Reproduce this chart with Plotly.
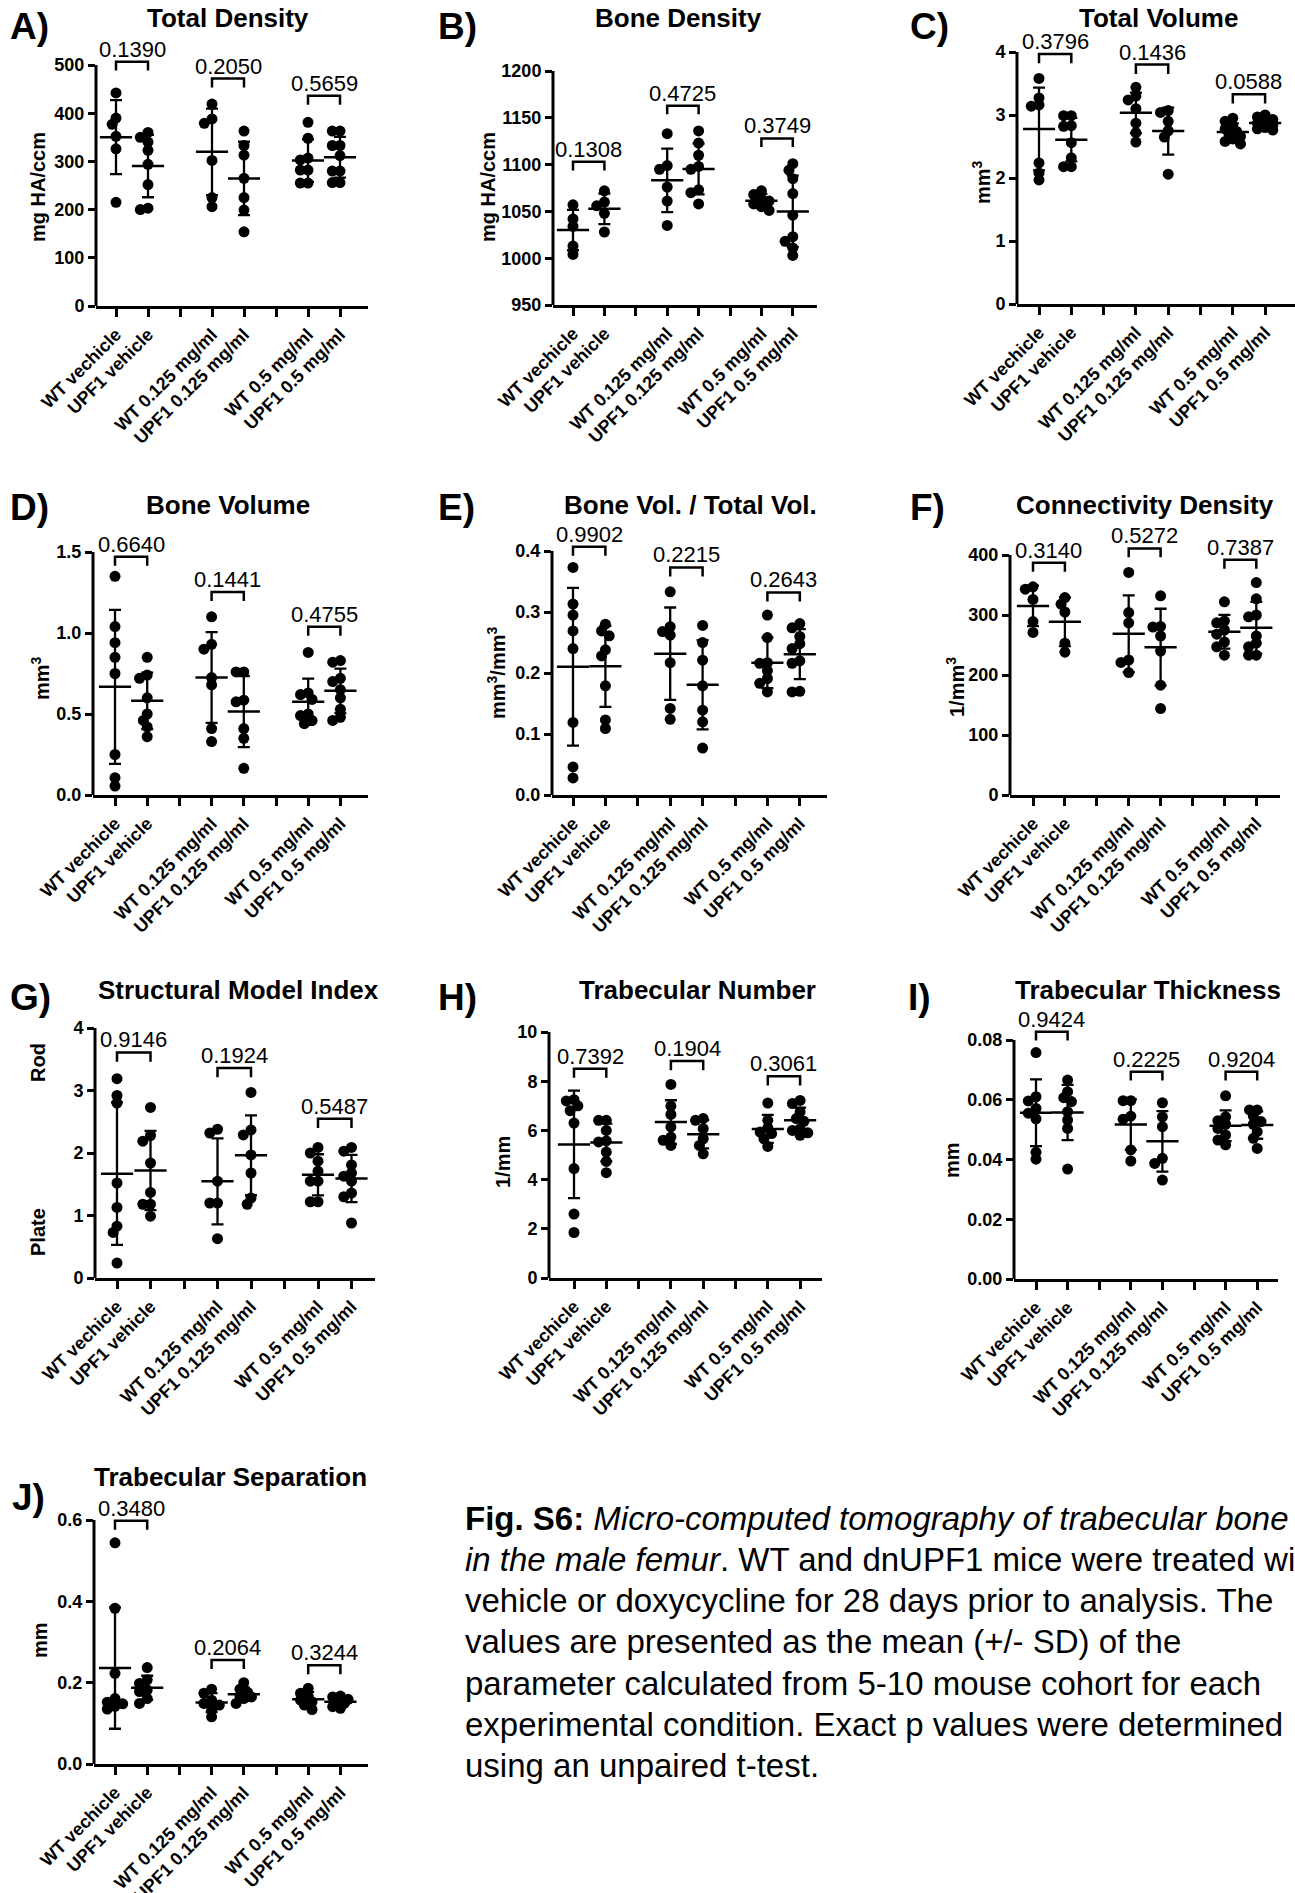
import numpy as np
import plotly.graph_objects as go

W, H = 1295, 1893
FONT = "Liberation Sans, Arial, Helvetica, sans-serif"

# ---------------- data ----------------
x_labels = ["WT vechicle", "UPF1 vehicle", "", "WT 0.125 mg/ml", "UPF1 0.125 mg/ml",
            "", "WT 0.5 mg/ml", "UPF1 0.5 mg/ml"]
group_slots = [0, 1, 3, 4, 6, 7]
bracket_pairs = [(0, 1), (3, 4), (6, 7)]

total_density = [
    [442, 390, 377, 352, 326, 215],
    [360, 350, 340, 323, 294, 252, 203, 200],
    [419, 388, 379, 302, 225, 206],
    [363, 333, 313, 265, 225, 199, 154],
    [381, 348, 307, 303, 282, 282, 255, 255],
    [363, 363, 333, 333, 312, 280, 280, 256, 256],
]
total_density_p = ["0.1390", "0.2050", "0.5659"]
total_density_br = [507, 472, 436]

bone_density = [
    [1057, 1042, 1034, 1013, 1004],
    [1072, 1060, 1056, 1048, 1028],
    [1133, 1099, 1095, 1076, 1061, 1035],
    [1136, 1123, 1110, 1098, 1095, 1073, 1070, 1058],
    [1072, 1068, 1064, 1061, 1058, 1055, 1051],
    [1101, 1094, 1085, 1069, 1046, 1023, 1018, 1011, 1003],
]
bone_density_p = ["0.1308", "0.4725", "0.3749"]
bone_density_br = [1103, 1163, 1128]

total_volume = [
    [3.58, 3.27, 3.16, 3.14, 2.24, 2.08, 1.97],
    [2.99, 2.99, 2.83, 2.82, 2.56, 2.32, 2.18, 2.18],
    [3.44, 3.30, 3.24, 3.10, 2.87, 2.72, 2.57],
    [3.07, 3.04, 2.90, 2.75, 2.65, 2.06],
    [2.95, 2.90, 2.83, 2.78, 2.74, 2.70, 2.66, 2.62, 2.58, 2.54],
    [3.00, 2.97, 2.93, 2.90, 2.87, 2.84, 2.80, 2.78, 2.76],
]
total_volume_p = ["0.3796", "0.1436", "0.0588"]
total_volume_br = [3.97, 3.80, 3.33]

bone_volume = [
    [1.35, 1.04, 0.94, 0.85, 0.75, 0.25, 0.107, 0.055],
    [0.85, 0.74, 0.72, 0.60, 0.50, 0.46, 0.42, 0.36],
    [1.10, 0.93, 0.90, 0.725, 0.68, 0.41, 0.33],
    [0.76, 0.76, 0.585, 0.575, 0.41, 0.35, 0.165],
    [0.88, 0.63, 0.62, 0.59, 0.50, 0.49, 0.46, 0.44],
    [0.83, 0.82, 0.72, 0.70, 0.65, 0.60, 0.53, 0.48, 0.46],
]
bone_volume_p = ["0.6640", "0.1441", "0.4755"]
bone_volume_br = [1.47, 1.253, 1.038]

bv_tv = [
    [0.373, 0.313, 0.295, 0.269, 0.240, 0.119, 0.046, 0.028],
    [0.280, 0.269, 0.261, 0.238, 0.228, 0.179, 0.123, 0.109],
    [0.333, 0.276, 0.268, 0.262, 0.217, 0.142, 0.124],
    [0.278, 0.250, 0.221, 0.179, 0.139, 0.120, 0.077],
    [0.295, 0.258, 0.217, 0.216, 0.204, 0.191, 0.183, 0.169],
    [0.281, 0.274, 0.260, 0.248, 0.240, 0.220, 0.216, 0.170, 0.169],
]
bv_tv_p = ["0.9902", "0.2215", "0.2643"]
bv_tv_br = [0.407, 0.373, 0.332]

conn_density = [
    [347, 343, 326, 289, 271],
    [329, 318, 305, 253, 238],
    [371, 304, 287, 225, 221, 204],
    [332, 281, 280, 265, 240, 183, 144],
    [322, 290, 287, 275, 268, 255, 247, 233],
    [354, 327, 300, 297, 265, 253, 247, 233, 233],
]
conn_density_p = ["0.3140", "0.5272", "0.7387"]
conn_density_br = [387, 411, 392]

smi = [
    [3.19, 2.92, 2.80, 1.52, 1.13, 0.83, 0.73, 0.24],
    [2.73, 2.28, 2.19, 1.84, 1.37, 1.18, 1.18, 0.99],
    [2.38, 2.32, 1.55, 1.20, 1.20, 0.63],
    [2.97, 2.37, 2.29, 1.97, 1.68, 1.28, 1.18],
    [2.09, 2.00, 1.87, 1.71, 1.55, 1.55, 1.22, 1.22],
    [2.09, 2.03, 1.81, 1.68, 1.63, 1.55, 1.36, 1.30, 0.88],
]
smi_p = ["0.9146", "0.1924", "0.5487"]
smi_br = [3.61, 3.36, 2.55]

tb_number = [
    [7.25, 7.20, 7.00, 6.80, 6.30, 4.45, 2.60, 1.85],
    [6.41, 6.41, 6.00, 5.57, 5.53, 5.12, 4.74, 4.28],
    [7.87, 6.99, 6.65, 6.14, 5.73, 5.60, 5.39],
    [6.48, 6.41, 6.07, 5.66, 5.39, 5.05],
    [7.11, 6.41, 6.10, 5.93, 5.87, 5.66, 5.35],
    [7.22, 7.09, 6.75, 6.48, 6.37, 6.07, 6.00, 5.90, 5.80],
]
tb_number_p = ["0.7392", "0.1904", "0.3061"]
tb_number_br = [8.51, 8.82, 8.20]

tb_thickness = [
    [0.0758, 0.0610, 0.0596, 0.0571, 0.0555, 0.0536, 0.0424, 0.0401],
    [0.0666, 0.0627, 0.0607, 0.0594, 0.0560, 0.0532, 0.0504, 0.0368],
    [0.0597, 0.0597, 0.0545, 0.0535, 0.0432, 0.0395],
    [0.0590, 0.0543, 0.0510, 0.0404, 0.0387, 0.0331],
    [0.0613, 0.0543, 0.0530, 0.0518, 0.0504, 0.0482, 0.0465, 0.0449],
    [0.0566, 0.0566, 0.0545, 0.0527, 0.0518, 0.0493, 0.0471, 0.0437],
]
tb_thickness_p = ["0.9424", "0.2225", "0.9204"]
tb_thickness_br = [0.0828, 0.0694, 0.0694]

tb_separation = [
    [0.544, 0.383, 0.223, 0.161, 0.152, 0.148, 0.142, 0.135],
    [0.237, 0.207, 0.198, 0.182, 0.178, 0.161, 0.149],
    [0.184, 0.174, 0.157, 0.149, 0.145, 0.133, 0.116],
    [0.200, 0.184, 0.176, 0.167, 0.165, 0.161, 0.149],
    [0.186, 0.174, 0.167, 0.157, 0.153, 0.145, 0.134],
    [0.167, 0.165, 0.159, 0.153, 0.149, 0.141, 0.137],
]
tb_separation_p = ["0.3480", "0.2064", "0.3244"]
tb_separation_br = [0.598, 0.256, 0.243]

caption_lines = [
    "<b>Fig. S6:</b> <i>Micro-computed tomography of trabecular bone</i>",
    "<i>in the male femur</i>. WT and dnUPF1 mice were treated with",
    "vehicle or doxycycline for 28 days prior to analysis. The",
    "values are presented as the mean (+/- SD) of the",
    "parameter calculated from 5-10 mouse cohort for each",
    "experimental condition. Exact p values were determined",
    "using an unpaired t-test.",
]

# ---------------- panel layout (pixels) ----------------
panels = [
    dict(letter="A)", title="Total Density", ytitle="mg HA/ccm", data=total_density, p=total_density_p,
         br=total_density_br, yticks=[0, 100, 200, 300, 400, 500], fmt="{:.0f}",
         box=(96, 368, 65, 306), cat0=116, step=32.0,
         letter_xy=(8, 4), title_xy=(228, 18), ytitle_xy=(38, 187)),
    dict(letter="B)", title="Bone Density", ytitle="mg HA/ccm", data=bone_density, p=bone_density_p,
         br=bone_density_br, yticks=[950, 1000, 1050, 1100, 1150, 1200], fmt="{:.0f}",
         box=(553, 817, 71, 305), cat0=573, step=31.4,
         letter_xy=(436, 4), title_xy=(678, 18), ytitle_xy=(488, 187)),
    dict(letter="C)", title="Total Volume", ytitle="mm<sup>3</sup>", data=total_volume, p=total_volume_p,
         br=total_volume_br, yticks=[0, 1, 2, 3, 4], fmt="{:.0f}",
         box=(1017, 1295, 52, 304), cat0=1039, step=32.3,
         letter_xy=(908, 4), title_xy=(1158, 18), ytitle_xy=(982, 182)),
    dict(letter="D)", title="Bone Volume", ytitle="mm<sup>3</sup>", data=bone_volume, p=bone_volume_p,
         br=bone_volume_br, yticks=[0, 0.5, 1.0, 1.5], fmt="{:.1f}",
         box=(93, 368, 552, 795), cat0=115, step=32.2,
         letter_xy=(8, 485), title_xy=(228, 505), ytitle_xy=(40, 678)),
    dict(letter="E)", title="Bone Vol. / Total Vol.", ytitle="mm<sup>3</sup>/mm<sup>3</sup>", data=bv_tv,
         p=bv_tv_p, br=bv_tv_br, yticks=[0, 0.1, 0.2, 0.3, 0.4], fmt="{:.1f}",
         box=(552, 827, 551, 795), cat0=573, step=32.4,
         letter_xy=(436, 485), title_xy=(690, 505), ytitle_xy=(497, 673)),
    dict(letter="F)", title="Connectivity Density", ytitle="1/mm<sup>3</sup>", data=conn_density,
         p=conn_density_p, br=conn_density_br, yticks=[0, 100, 200, 300, 400], fmt="{:.0f}",
         box=(1010, 1280, 555, 795), cat0=1033, step=31.9,
         letter_xy=(908, 485), title_xy=(1145, 505), ytitle_xy=(955, 687)),
    dict(letter="G)", title="Structural Model Index", ytitle=None, data=smi, p=smi_p,
         br=smi_br, yticks=[0, 1, 2, 3, 4], fmt="{:.0f}",
         box=(95, 375, 1028, 1278), cat0=117, step=33.5,
         letter_xy=(8, 975), title_xy=(238, 990), ytitle_xy=None),
    dict(letter="H)", title="Trabecular Number", ytitle="1/mm", data=tb_number, p=tb_number_p,
         br=tb_number_br, yticks=[0, 2, 4, 6, 8, 10], fmt="{:.0f}",
         box=(549, 822, 1032, 1278), cat0=574, step=32.3,
         letter_xy=(436, 975), title_xy=(697, 990), ytitle_xy=(503, 1162)),
    dict(letter="I)", title="Trabecular Thickness", ytitle="mm", data=tb_thickness, p=tb_thickness_p,
         br=tb_thickness_br, yticks=[0, 0.02, 0.04, 0.06, 0.08], fmt="{:.2f}",
         box=(1014, 1278, 1040, 1279), cat0=1036, step=31.6,
         letter_xy=(906, 975), title_xy=(1148, 990), ytitle_xy=(952, 1160)),
    dict(letter="J)", title="Trabecular Separation", ytitle="mm", data=tb_separation, p=tb_separation_p,
         br=tb_separation_br, yticks=[0, 0.2, 0.4, 0.6], fmt="{:.1f}",
         box=(94, 368, 1520, 1764), cat0=115, step=32.2,
         letter_xy=(10, 1475), title_xy=(230, 1477), ytitle_xy=(40, 1640)),
]


def px(xp):
    return xp / W


def py(yp):
    return 1 - yp / H


def beeswarm(vals, px_per_unit, dot, max_off=8.0):
    """Horizontal pixel offsets for a compact, GraphPad-like scatter of dots."""
    order = sorted(range(len(vals)), key=lambda i: -vals[i])
    placed = []
    offs = [0.0] * len(vals)
    cands = [0.0]
    s = dot * 0.35
    j = 1
    while j * s <= max_off + 1e-9:
        cands += [-j * s, j * s]
        j += 1
    need = 0.62 * dot
    for i in order:
        yv = vals[i] * px_per_unit
        best, best_d = None, -1
        for c in cands:
            d = min([((c - ox) ** 2 + (yv - oy) ** 2) ** 0.5 for ox, oy in placed] or [1e9])
            if d >= need:
                best = c
                break
            if d > best_d:
                best_d, best = d, c
        offs[i] = best
        placed.append((best, yv))
    return offs


fig = go.Figure()
annotations = []
shapes = []
layout_axes = {}

DOT = 11  # marker diameter in px
EXT = 0.08

for k, pan in enumerate(panels, start=1):
    xa = "x" if k == 1 else f"x{k}"
    ya = "y" if k == 1 else f"y{k}"
    xl, xr, yt, yb = pan["box"]
    ymin, ytop = pan["yticks"][0], pan["yticks"][-1]
    span = ytop - ymin
    ymax = ytop + EXT * span
    yt_ext = yt - EXT * (yb - yt)
    px_per_unit = (yb - yt) / span
    step = pan["step"]
    xmin = (xl - pan["cat0"]) / step
    xmax = (xr - pan["cat0"]) / step

    xs, ys = [], []
    for slot, vals in zip(group_slots, pan["data"]):
        offs = beeswarm(vals, px_per_unit, DOT)
        for v, o in zip(vals, offs):
            xs.append(slot + o / step)
            ys.append(v)
    fig.add_trace(go.Scatter(x=xs, y=ys, mode="markers", xaxis=xa, yaxis=ya,
                             marker=dict(size=DOT, color="black", line=dict(width=0)), showlegend=False,
                             hoverinfo="skip", cliponaxis=False))

    means = [float(np.mean(v)) for v in pan["data"]]
    sds = [float(np.std(v, ddof=1)) for v in pan["data"]]
    fig.add_trace(go.Scatter(x=group_slots, y=means, mode="markers", xaxis=xa, yaxis=ya,
                             marker=dict(symbol="line-ew", size=23, color="black",
                                         line=dict(width=2.5, color="black")),
                             error_y=dict(type="data", array=sds, visible=True, color="black",
                                          thickness=2.3, width=6),
                             showlegend=False, hoverinfo="skip", cliponaxis=False))

    layout_axes["xaxis" if k == 1 else f"xaxis{k}"] = dict(
        domain=[px(xl), px(xr)], range=[xmin, xmax], anchor=ya, automargin=False,
        tickmode="array", tickvals=list(range(8)), ticktext=x_labels, tickangle=-45,
        ticks="outside", ticklen=8, tickwidth=2.5, tickcolor="black",
        showline=True, linewidth=3, linecolor="black", showgrid=False, zeroline=False,
        tickfont=dict(family=FONT, size=18, color="black", weight="bold"), fixedrange=True)
    layout_axes["yaxis" if k == 1 else f"yaxis{k}"] = dict(
        domain=[py(yb), py(yt_ext)], range=[ymin, ymax], anchor=xa, automargin=False,
        tickmode="array", tickvals=pan["yticks"], ticktext=[pan["fmt"].format(t) for t in pan["yticks"]],
        ticks="outside", ticklen=7, tickwidth=2.5, tickcolor="black",
        showline=False, showgrid=False, zeroline=False,
        tickfont=dict(family=FONT, size=18, color="black", weight="bold"), fixedrange=True)

    shapes.append(dict(type="line", xref=f"{xa} domain", yref=ya, x0=0, x1=0, y0=ymin, y1=ytop,
                       line=dict(color="black", width=3)))

    leg = 0.037 * span
    for (a, b), top, ptxt in zip(bracket_pairs, pan["br"], pan["p"]):
        shapes.append(dict(type="path", xref=xa, yref=ya,
                           path=f"M {a},{top - leg} L {a},{top} L {b},{top} L {b},{top - leg}",
                           line=dict(color="black", width=2.5)))
        annotations.append(dict(x=(a + b) / 2, y=top, xref=xa, yref=ya, text=ptxt, showarrow=False,
                                xanchor="center", yanchor="bottom", yshift=-2,
                                font=dict(family=FONT, size=22, color="black")))

    lx, ly = pan["letter_xy"]
    annotations.append(dict(x=px(lx), y=py(ly), xref="paper", yref="paper", text=f"<b>{pan['letter']}</b>",
                            showarrow=False, xanchor="left", yanchor="top",
                            font=dict(family=FONT, size=37, color="black")))
    tx, ty = pan["title_xy"]
    annotations.append(dict(x=px(tx), y=py(ty), xref="paper", yref="paper", text=f"<b>{pan['title']}</b>",
                            showarrow=False, xanchor="center", yanchor="middle",
                            font=dict(family=FONT, size=26, color="black")))
    if pan["ytitle"]:
        yx, yy = pan["ytitle_xy"]
        annotations.append(dict(x=px(yx), y=py(yy), xref="paper", yref="paper", text=f"<b>{pan['ytitle']}</b>",
                                showarrow=False, xanchor="center", yanchor="middle", textangle=-90,
                                font=dict(family=FONT, size=20, color="black")))

for txt, (gx, gy) in [("Rod", (38, 1063)), ("Plate", (38, 1232))]:
    annotations.append(dict(x=px(gx), y=py(gy), xref="paper", yref="paper", text=f"<b>{txt}</b>",
                            showarrow=False, xanchor="center", yanchor="middle", textangle=-90,
                            font=dict(family=FONT, size=20, color="black")))

for i, line in enumerate(caption_lines):
    annotations.append(dict(x=px(463), y=py(1518 + i * 41.3), xref="paper", yref="paper", text=line,
                            showarrow=False, xanchor="left", yanchor="middle",
                            font=dict(family=FONT, size=33, color="black")))

fig.update_layout(template="none", width=W, height=H, margin=dict(l=0, r=0, t=0, b=0, autoexpand=False),
                  paper_bgcolor="white", plot_bgcolor="white", showlegend=False,
                  font=dict(family=FONT, color="black"),
                  annotations=annotations, shapes=shapes, **layout_axes)

fig.write_html("out.html", include_plotlyjs=True, config={"displayModeBar": False},
               post_script="document.body.style.margin='0px';document.body.style.overflow='hidden';")
